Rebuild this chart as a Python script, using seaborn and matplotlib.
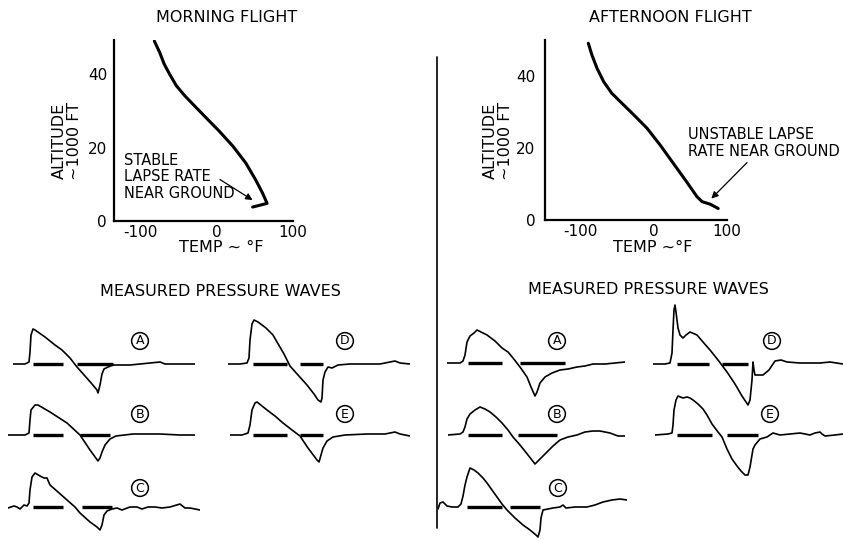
import numpy as np
import pandas as pd
import seaborn as sns
import matplotlib.pyplot as plt
from matplotlib.lines import Line2D

# ---------------------------------------
# 1. Data
# ---------------------------------------
# temperature profiles: temp (deg F) vs altitude (1000 ft)
morning_temp = [-82, -75, -69, -62, -53, -42, -29, -14, 3, 21, 38, 51, 60, 66, 47]
morning_alt = [49.0, 45.9, 42.7, 40.0, 36.8, 34.1, 31.3, 28.1, 24.5, 20.4, 15.8, 11.2, 7.6, 4.8, 3.8]
afternoon_temp = [-89, -84, -77, -68, -57, -43, -27, -9, 9, 27, 45, 59, 66, 77, 88]
afternoon_alt = [49.1, 45.8, 42.1, 38.4, 35.2, 32.4, 29.2, 25.5, 20.8, 15.7, 10.6, 6.5, 5.1, 4.4, 3.2]

# measured pressure signatures (time, overpressure), arbitrary units
morning_A = [(0, 0), (12, 0), (16, 2), (17, 12), (18, 29), (20, 35), (22, 34), (32, 27), (42, 19),
             (49, 14), (57, 6), (64, -3), (72, -12), (79, -20), (84, -26), (85, -29), (87, -21),
             (89, -10), (91, -5), (95, -3), (100, -1), (117, -1), (137, 1), (147, 2), (152, 0), (182, 0)]
morning_B = [(0, 0), (17, 0), (21, 2), (22, 15), (23, 25), (27, 30), (30, 30), (42, 23), (59, 12),
             (72, 0), (82, -15), (90, -26), (92, -23), (94, -17), (97, -10), (102, -4), (108, -1),
             (125, 1), (152, 1), (172, 0), (187, 0)]
morning_C = [(0, -1), (6, 1), (9, 0), (12, -2), (16, 2), (19, 1), (21, 4), (22, 17), (24, 30),
             (27, 34), (32, 31), (36, 29), (39, 29), (42, 22), (50, 15), (59, 7), (67, 0), (72, -6),
             (82, -15), (89, -20), (92, -23), (94, -18), (96, -8), (99, -4), (104, -2), (109, -1),
             (114, -3), (122, 0), (129, 0), (134, -2), (140, 0), (147, 0), (154, -1), (162, 0),
             (172, 3), (177, -1), (182, -1), (187, -2), (192, -3)]
morning_D = [(0, 0), (12, 0), (19, 1), (21, 6), (22, 24), (24, 40), (26, 44), (30, 42), (38, 36),
             (45, 29), (49, 22), (56, 10), (62, -2), (70, -11), (79, -21), (86, -30), (90, -36),
             (93, -38), (94, -34), (95, -16), (97, -8), (100, -3), (104, -4), (110, -1), (122, 0),
             (152, 0), (167, 3), (172, 1), (182, 0)]
morning_E = [(0, 0), (12, 0), (18, 2), (20, 10), (22, 25), (25, 32), (27, 33), (32, 29), (37, 25),
             (45, 19), (53, 12), (62, 5), (70, -1), (78, -13), (87, -25), (89, -27), (91, -20),
             (93, -13), (97, -6), (103, -2), (115, 0), (137, 1), (155, 1), (165, 3), (170, 1), (180, -1)]

afternoon_A = [(0, 0), (13, 0), (16, 2), (18, 8), (20, 21), (23, 27), (27, 30), (30, 33), (34, 31),
               (40, 28), (48, 22), (55, 15), (61, 11), (66, 5), (73, -4), (80, -14), (84, -24),
               (88, -33), (90, -29), (93, -20), (98, -14), (105, -10), (113, -7), (121, -6),
               (130, -4), (138, -3), (146, -1), (158, -1), (168, 0), (178, 1)]
afternoon_B = [(0, 0), (12, 1), (15, 3), (17, 8), (19, 16), (22, 21), (27, 25), (32, 28), (37, 26),
               (42, 23), (48, 18), (54, 12), (60, 5), (65, -2), (72, -10), (80, -20), (87, -29),
               (92, -24), (99, -17), (105, -11), (112, -5), (120, -2), (129, 0), (137, 3), (145, 4),
               (152, 4), (162, 2), (170, -1), (177, -1)]
afternoon_C = [(0, -2), (2, 4), (5, 5), (9, 1), (14, 0), (20, 0), (23, 3), (25, 11), (27, 22),
               (29, 30), (32, 39), (36, 37), (40, 34), (45, 29), (49, 24), (54, 17), (59, 10),
               (64, 3), (69, -3), (77, -11), (85, -18), (92, -23), (98, -28), (100, -30), (102, -23),
               (103, -11), (105, -3), (110, -2), (115, -1), (122, 0), (125, 2), (128, -1), (137, 0),
               (149, 0), (157, 2), (165, 5), (174, 7), (182, 8), (189, 7)]
afternoon_D = [(0, 0), (12, 0), (17, 1), (19, 11), (20, 34), (21, 54), (22, 59), (23, 52), (25, 36),
               (27, 29), (30, 26), (33, 29), (37, 32), (44, 29), (50, 22), (57, 14), (65, 4),
               (74, -8), (82, -20), (89, -32), (95, -41), (97, -36), (99, -16), (100, 2), (101, -6),
               (102, -11), (110, -11), (116, -6), (122, 3), (128, 4), (134, 2), (147, 1), (167, 1),
               (177, 2), (190, 0)]
afternoon_E = [(0, 0), (13, 1), (17, 2), (18, 10), (19, 25), (21, 35), (23, 39), (28, 37), (32, 38),
               (35, 37), (38, 35), (43, 31), (48, 26), (52, 20), (57, 11), (63, 3), (67, -2),
               (72, -14), (77, -24), (82, -31), (86, -36), (90, -40), (93, -40), (95, -32),
               (98, -14), (100, -10), (105, -4), (112, -2), (118, 2), (125, 0), (135, 1), (145, 2),
               (150, 1), (155, 0), (160, 2), (165, 3), (167, 1), (170, -1), (180, 0), (188, 1)]

# thick reference bars drawn on each trace (time spans)
morning_marks = {"A": [(20, 50), (64, 100)], "B": [(25, 55), (72, 102)], "C": [(25, 55), (74, 104)],
                 "D": [(25, 59), (72, 95)], "E": [(23, 57), (70, 93)]}
afternoon_marks = {"A": [(21, 55), (73, 118)], "B": [(20, 54), (70, 109)], "C": [(29, 64), (72, 102)],
                   "D": [(24, 56), (69, 95)], "E": [(22, 57), (72, 103)]}

# ---------------------------------------
# 2. Theme / figure
# ---------------------------------------
sns.set_theme(style="white", rc={"text.color": "black", "axes.labelcolor": "black",
                                 "xtick.color": "black", "ytick.color": "black"})
plt.rcParams["font.family"] = ["DejaVu Sans"]
plt.rcParams["axes.unicode_minus"] = False

W, H = 843, 539
fig = plt.figure(figsize=(W / 100, H / 100), dpi=100)


def px_axes(x0, y0, w, h):
    # pixel box (top-left origin) -> figure axes
    return fig.add_axes([x0 / W, 1 - (y0 + h) / H, w / W, h / H])


def ftext(x, y, s, **kw):
    fig.text(x / W, 1 - y / H, s, ha=kw.pop("ha", "center"), va=kw.pop("va", "center"), **kw)


# ---------------------------------------
# 3. Temperature profiles
# ---------------------------------------
def profile(box, temp, alt, xlim, ylim, ypad):
    ax = px_axes(*box)
    sns.lineplot(x=temp, y=alt, sort=False, estimator=None, color="black", lw=2.2, ax=ax)
    ax.set_xlim(xlim)
    ax.set_ylim(ylim)
    sns.despine(ax=ax)
    for s in ["left", "bottom"]:
        ax.spines[s].set_color("black")
        ax.spines[s].set_linewidth(1.6)
    ax.set_xticks([-100, 0, 100])
    ax.set_yticks([0, 20, 40])
    ax.tick_params(axis="x", length=0, labelsize=11, pad=3)
    ax.tick_params(axis="y", length=0, labelsize=11, pad=ypad)
    ax.set_xlabel("")
    ax.set_ylabel("")
    ax.patch.set_alpha(0)
    return ax


ax_m = profile((114, 40, 179, 181), morning_temp, morning_alt, (-135, 100), (0, 49.3), 5)
ax_m.text(-122, 12, "STABLE\nLAPSE RATE\nNEAR GROUND", fontsize=10.5, va="center", ha="left",
          linespacing=1.15)
ax_m.annotate("", xy=(50, 5.3), xytext=(1, 11.7),
              arrowprops=dict(arrowstyle="-|>", color="black", lw=0.9, mutation_scale=10))

ax_a = profile((545, 40, 182, 180), afternoon_temp, afternoon_alt, (-148, 100), (0, 50), 7)
ax_a.text(47, 21.3, "UNSTABLE LAPSE\nRATE NEAR GROUND", fontsize=10.5, va="center", ha="left",
          linespacing=1.15)
ax_a.annotate("", xy=(76, 5.4), xytext=(130, 16.5),
              arrowprops=dict(arrowstyle="-|>", color="black", lw=0.9, mutation_scale=10),
              annotation_clip=False)

ftext(227, 17, "MORNING FLIGHT", fontsize=11.5)
ftext(670, 17, "AFTERNOON FLIGHT", fontsize=11.5)
ftext(221, 248, "TEMP ~ °F", fontsize=11.5)
ftext(653, 248, "TEMP ~°F", fontsize=11.5)
ftext(67, 141, "ALTITUDE\n~1000 FT", fontsize=11.5, rotation=90, linespacing=1.0)
ftext(498, 141, "ALTITUDE\n~1000 FT", fontsize=11.5, rotation=90, linespacing=1.0)

# divider
fig.add_artist(Line2D([437 / W, 437 / W], [1 - 57 / H, 1 - 528 / H], color="black", lw=1.2))

# ---------------------------------------
# 4. Pressure waves
# ---------------------------------------
ftext(220, 292, "MEASURED PRESSURE WAVES", fontsize=11.5)
ftext(648, 290, "MEASURED PRESSURE WAVES", fontsize=11.5)


def wave(x0, yb, trace, marks, label, lab_xy):
    df = pd.DataFrame(trace, columns=["t", "p"])
    tmax = df["t"].max()
    ax = px_axes(x0, yb - 62, tmax, 107)
    sns.lineplot(data=df, x="t", y="p", sort=False, estimator=None, color="black", lw=1.2, ax=ax)
    ax.hlines([0] * len(marks), [m[0] for m in marks], [m[1] for m in marks],
              color="black", lw=2.4)
    ax.text(lab_xy[0], lab_xy[1], label, ha="center", va="center", fontsize=9,
            bbox=dict(boxstyle="circle,pad=0.15", fc="white", ec="black", lw=1.1))
    ax.set_xlim(0, tmax)
    ax.set_ylim(-45, 62)
    ax.axis("off")


wave(13, 364, morning_A, morning_marks["A"], "A", (127, 23))
wave(8, 435, morning_B, morning_marks["B"], "B", (132, 21))
wave(8, 507, morning_C, morning_marks["C"], "C", (132, 19))
wave(228, 364, morning_D, morning_marks["D"], "D", (117, 23))
wave(230, 435, morning_E, morning_marks["E"], "E", (115, 21))

wave(447, 363, afternoon_A, afternoon_marks["A"], "A", (110, 22))
wave(448, 435, afternoon_B, afternoon_marks["B"], "B", (109, 21))
wave(438, 507, afternoon_C, afternoon_marks["C"], "C", (120, 19))
wave(653, 364, afternoon_D, afternoon_marks["D"], "D", (119, 23))
wave(655, 435, afternoon_E, afternoon_marks["E"], "E", (115, 21))

plt.savefig("out.png", dpi=100)
